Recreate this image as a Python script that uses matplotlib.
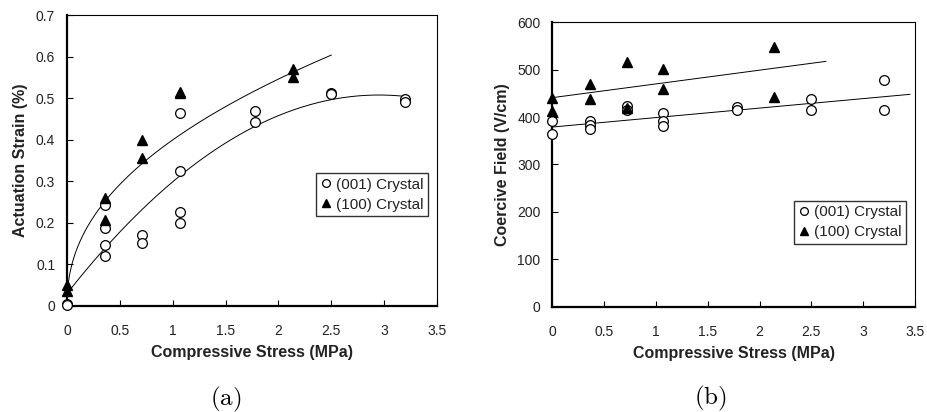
import numpy as np
import matplotlib
matplotlib.use("Agg")
import matplotlib.pyplot as plt

plt.rcParams['font.family'] = ['Liberation Sans', 'DejaVu Sans']
plt.rcParams['mathtext.fontset'] = 'cm'

# (a) actuation strain vs compressive stress
xa_001 = [0, 0, 0.36, 0.36, 0.36, 0.36, 0.71, 0.71, 1.07, 1.07, 1.07, 1.07, 1.78, 1.78, 2.5, 2.5, 3.2, 3.2]
ya_001 = [0.006, 0.003, 0.243, 0.187, 0.146, 0.120, 0.171, 0.151, 0.465, 0.324, 0.226, 0.200,
          0.470, 0.443, 0.514, 0.510, 0.498, 0.491]
xa_100 = [0, 0, 0.36, 0.36, 0.71, 0.71, 1.07, 1.07, 2.14, 2.14]
ya_100 = [0.050, 0.036, 0.260, 0.207, 0.400, 0.356, 0.516, 0.512, 0.571, 0.551]

# (b) coercive field vs compressive stress
xb_001 = [0, 0, 0.36, 0.36, 0.36, 0.72, 0.72, 1.07, 1.07, 1.07, 1.78, 1.78, 2.5, 2.5, 3.2, 3.2]
yb_001 = [392, 364, 392, 383, 374, 423, 415, 408, 392, 381, 422, 414, 438, 414, 479, 414]
xb_100 = [0, 0, 0.36, 0.36, 0.72, 0.72, 1.07, 1.07, 2.14, 2.14]
yb_100 = [441, 412, 470, 438, 516, 419, 501, 459, 547, 443]

# trendline coefficients
pow_100 = (0.40, 0.45)             # y = a * x^b
quad_001 = (-0.0549, 0.324, 0.03)  # y = a x^2 + b x + c
lin_100 = (29.0, 441.0)
lin_001 = (20.0, 379.0)

xticks = [0, 0.5, 1, 1.5, 2, 2.5, 3, 3.5]
txt = '#222222'

fig = plt.figure(figsize=(9.27, 4.12), dpi=100)
ax1 = fig.add_axes([0.0723, 0.2573, 0.3991, 0.7056])
ax2 = fig.add_axes([0.5958, 0.2556, 0.3913, 0.6903])


def style(ax, ylim, yticks, ylabel, ylpad):
    ax.set_xlim(0, 3.5)
    ax.set_ylim(*ylim)
    ax.set_xticks(xticks)
    ax.set_xticklabels(['%g' % t for t in xticks])
    ax.set_yticks(yticks)
    ax.set_yticklabels(['%g' % t for t in yticks])
    ax.tick_params(direction='in', length=4, width=0.8, labelsize=10, colors='black', labelcolor=txt)
    ax.tick_params(axis='x', pad=13)
    ax.tick_params(axis='y', pad=8.5)
    for s in ['left', 'bottom']:
        ax.spines[s].set_linewidth(1.6)
    for s in ['top', 'right']:
        ax.spines[s].set_linewidth(0.8)
    ax.set_xlabel('Compressive Stress (MPa)', fontsize=11.5, fontweight='bold', color=txt, labelpad=5)
    ax.set_ylabel(ylabel, fontsize=11.5, fontweight='bold', color=txt, labelpad=ylpad)


circ = dict(marker='o', ms=7, mfc='white', mec='black', mew=0.9, ls='none', clip_on=False, zorder=3)
tri = dict(marker='^', ms=7.5, mfc='black', mec='black', ls='none', clip_on=False, zorder=3)

# panel (a)
xc = np.linspace(0.004, 2.5, 300)
ax1.plot(xc, pow_100[0] * xc ** pow_100[1], color='black', lw=0.7)
xq = np.linspace(0, 3.2, 300)
ax1.plot(xq, np.polyval(quad_001, xq), color='black', lw=0.7)
ax1.plot(xa_001, ya_001, label='(001) Crystal', **circ)
ax1.plot(xa_100, ya_100, label='(100) Crystal', **tri)
style(ax1, (0, 0.7), [0, 0.1, 0.2, 0.3, 0.4, 0.5, 0.6, 0.7], 'Actuation Strain (%)', 6)

# panel (b)
xl = np.linspace(0, 2.64, 2)
ax2.plot(xl, np.polyval(lin_100, xl), color='black', lw=0.7)
xl = np.linspace(0, 3.45, 2)
ax2.plot(xl, np.polyval(lin_001, xl), color='black', lw=0.7)
ax2.plot(xb_001, yb_001, label='(001) Crystal', **circ)
ax2.plot(xb_100, yb_100, label='(100) Crystal', **tri)
style(ax2, (0, 600), [0, 100, 200, 300, 400, 500, 600], 'Coercive Field (V/cm)', 5)

for ax, anchor in [(ax1, (0.673, 0.4575)), (ax2, (0.666, 0.3727))]:
    leg = ax.legend(loc='upper left', bbox_to_anchor=anchor, fontsize=11, frameon=True,
                    fancybox=False, borderpad=0.3, handlelength=0.7, handletextpad=0.3,
                    labelspacing=0.4, borderaxespad=0, markerscale=0.8)
    leg.get_frame().set_edgecolor('black')
    leg.get_frame().set_linewidth(1.0)
    for t in leg.get_texts():
        t.set_color(txt)

fig.text(0.2438, 0.031, r'$\mathrm{(a)}$', fontsize=18, ha='center', va='center')
fig.text(0.7659, 0.034, r'$\mathrm{(b)}$', fontsize=18, ha='center', va='center')

fig.savefig('out.png', dpi=100)
